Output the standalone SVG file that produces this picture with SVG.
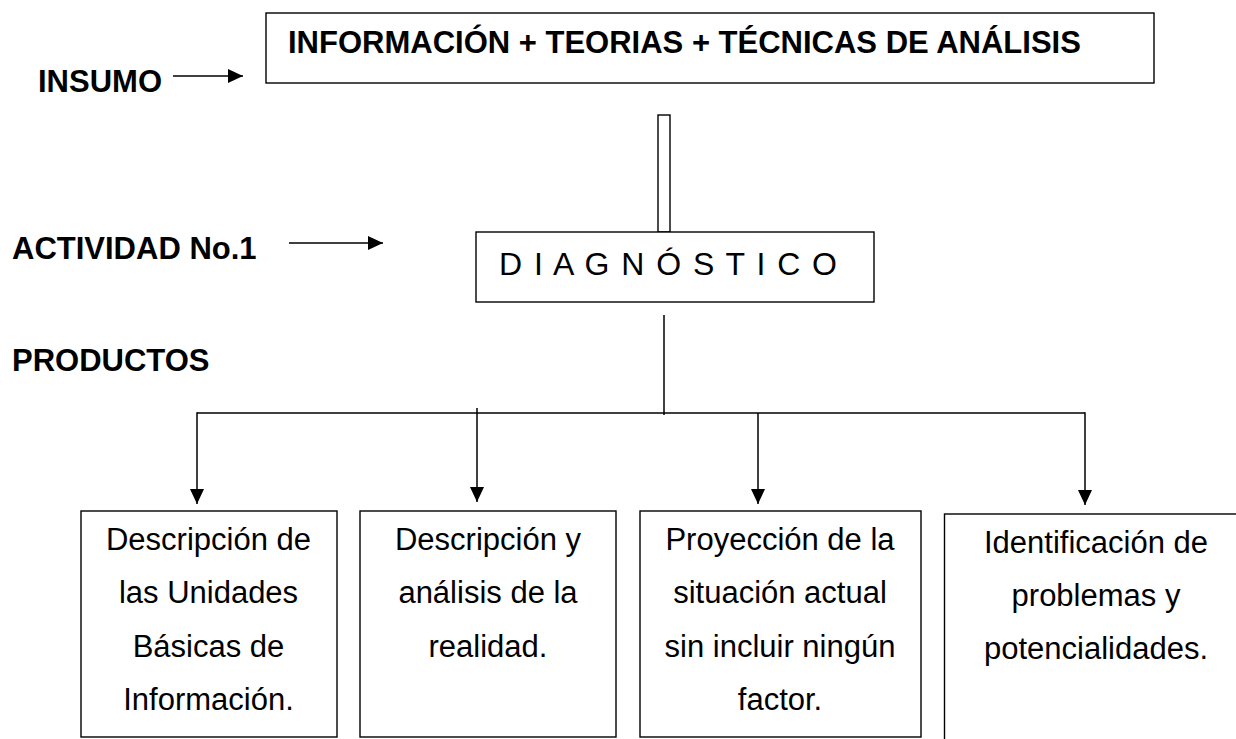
<svg xmlns="http://www.w3.org/2000/svg" width="1236" height="739" viewBox="0 0 1236 739">
<style>
.box{fill:#fff;stroke:#000;stroke-width:1.4}
.ln{fill:none;stroke:#000;stroke-width:1.5}
.lbl{font-family:"Liberation Sans",Arial,sans-serif;font-weight:bold;font-size:31px;fill:#000}
.txt{font-family:"Liberation Sans",Arial,sans-serif;font-size:31px;fill:#000;text-anchor:middle}
</style>
<defs>
<marker id="ah" markerUnits="userSpaceOnUse" markerWidth="15" markerHeight="14" refX="15" refY="7" orient="auto">
<path d="M0,0 L15,7 L0,14 Z" fill="#000"/>
</marker>
</defs>
<rect width="1236" height="739" fill="#fff"/>
<g id="labels">
<text class="lbl" x="38" y="92">INSUMO</text>
<text class="lbl" x="12" y="259">ACTIVIDAD No.1</text>
<text class="lbl" x="12" y="371">PRODUCTOS</text>
</g>
<g id="connectors">
<line class="ln" x1="173" y1="76" x2="243" y2="76" marker-end="url(#ah)"/>
<line class="ln" x1="289" y1="243" x2="383" y2="243" marker-end="url(#ah)"/>
<rect class="box" x="658" y="115" width="12" height="117"/>
<line class="ln" x1="664" y1="315" x2="664" y2="415"/>
<line class="ln" x1="197" y1="413" x2="1085" y2="413"/>
<line class="ln" x1="197" y1="412.3" x2="197" y2="504" marker-end="url(#ah)"/>
<line class="ln" x1="477" y1="408" x2="477" y2="502" marker-end="url(#ah)"/>
<line class="ln" x1="758" y1="413" x2="758" y2="504" marker-end="url(#ah)"/>
<line class="ln" x1="1085" y1="412.3" x2="1085" y2="505" marker-end="url(#ah)"/>
</g>
<g id="node-insumo">
<rect class="box" x="266" y="13" width="888" height="70"/>
<text class="lbl" x="288" y="53">INFORMACIÓN + TEORIAS + TÉCNICAS DE ANÁLISIS</text>
</g>
<g id="node-diagnostico">
<rect class="box" x="476" y="232" width="398" height="70"/>
<text x="499" y="275" textLength="338" lengthAdjust="spacing" style="font-family:'Liberation Sans',Arial,sans-serif;font-size:32px;fill:#000">D I A G N Ó S T I C O</text>
</g>
<g id="node-p1">
<rect class="box" x="81" y="511" width="256" height="226"/>
<text class="txt" x="208.5" y="550">Descripción de</text>
<text class="txt" x="208.5" y="603">las Unidades</text>
<text class="txt" x="208.5" y="657">Básicas de</text>
<text class="txt" x="208.5" y="710">Información.</text>
</g>
<g id="node-p2">
<rect class="box" x="360" y="511" width="256" height="226"/>
<text class="txt" x="488" y="550">Descripción y</text>
<text class="txt" x="488" y="603">análisis de la</text>
<text class="txt" x="488" y="657">realidad.</text>
</g>
<g id="node-p3">
<rect class="box" x="640" y="511" width="281" height="226"/>
<text class="txt" x="780" y="550">Proyección de la</text>
<text class="txt" x="780" y="603">situación actual</text>
<text class="txt" x="780" y="657">sin incluir ningún</text>
<text class="txt" x="780" y="710">factor.</text>
</g>
<g id="node-p4">
<rect class="box" x="944.5" y="514" width="320" height="260"/>
<text class="txt" x="1096" y="553">Identificación de</text>
<text class="txt" x="1096" y="606">problemas y</text>
<text class="txt" x="1096" y="659">potencialidades.</text>
</g>
</svg>
